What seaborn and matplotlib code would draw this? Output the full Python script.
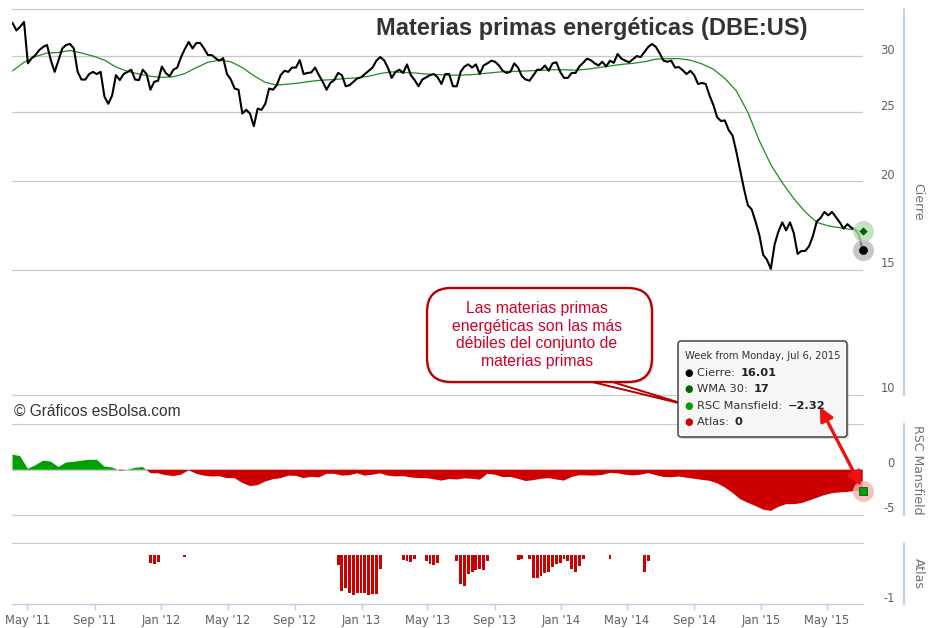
import numpy as np
import pandas as pd
import matplotlib
matplotlib.use("Agg")
import matplotlib.pyplot as plt
import matplotlib.dates as mdates
import matplotlib.transforms as mtransforms
from matplotlib.patches import FancyBboxPatch, Polygon, FancyArrowPatch
from matplotlib.lines import Line2D
import seaborn as sns

# ---------------- data ----------------
START = "2011-04-04"

close = [
    33.4, 32.6, 33.0, 33.5, 29.3, 29.8, 30.1, 30.6, 30.9, 31.1,
    29.6, 28.5, 29.6, 30.75, 31.1, 31.2, 30.75, 28.5, 27.8, 27.8,
    28.3, 28.5, 28.3, 28.5, 26.3, 25.7, 26.4, 28.2, 27.75, 28.3,
    28.5, 28.7, 27.8, 27.75, 28.7, 28.3, 26.9, 27.6, 27.7, 29.0,
    28.4, 28.1, 28.7, 28.9, 29.9, 30.7, 31.4, 30.75, 31.3, 31.3,
    30.75, 30.1, 30.1, 29.8, 29.55, 29.8, 28.3, 27.8, 27.0, 26.9,
    24.9, 25.2, 24.9, 23.9, 25.3, 25.2, 25.7, 27.0, 26.9, 27.3,
    28.2, 28.6, 28.5, 28.9, 28.9, 29.6, 28.3, 28.4, 28.45, 28.9,
    28.2, 27.6, 26.9, 27.5, 27.75, 28.4, 28.2, 27.2, 27.3, 27.6,
    27.9, 28.0, 28.3, 28.6, 28.9, 29.55, 29.9, 29.6, 28.9, 27.95,
    28.5, 28.7, 28.4, 29.2, 28.2, 27.75, 27.2, 27.8, 28.0, 28.2,
    28.3, 28.0, 27.4, 28.3, 28.3, 27.2, 27.2, 28.5, 29.0, 29.2,
    28.9, 29.2, 28.3, 29.1, 29.3, 29.55, 29.45, 29.1, 28.6, 28.4,
    28.5, 29.3, 28.9, 28.1, 27.8, 27.7, 28.2, 28.7, 28.7, 29.1,
    28.6, 29.3, 29.4, 28.5, 27.95, 27.95, 28.4, 28.4, 29.0, 29.35,
    29.75, 29.6, 29.3, 29.1, 29.45, 29.0, 29.55, 29.35, 30.2, 29.75,
    29.55, 29.4, 29.7, 30.0, 29.9, 30.4, 30.9, 31.2, 30.9, 30.25,
    29.55, 29.45, 29.55, 28.9, 28.95, 28.65, 28.3, 28.6, 28.2, 27.4,
    27.5, 27.4, 26.4, 25.6, 24.6, 24.3, 24.35, 23.6, 23.2, 22.0,
    20.7, 19.5, 18.5, 18.25, 17.55, 16.8, 15.75, 15.5, 15.05, 16.3,
    17.0, 17.5, 17.05, 17.5, 16.9, 15.8, 15.95, 15.95, 16.2, 16.75,
    17.55, 17.75, 18.1, 17.9, 18.1, 17.8, 17.5, 17.15, 17.4, 17.2,
    17.1, 16.8, 16.01,
]

# WMA 30, one reading every 3 weeks
wma30 = [
    28.6, 29.4, 29.95, 30.3, 30.35, 30.55, 30.3, 30.0, 29.6, 28.95,
    28.55, 28.3, 28.1, 28.0, 28.05, 28.35, 28.9, 29.4, 29.6, 29.45,
    28.9, 28.15, 27.55, 27.3, 27.4, 27.5, 27.65, 27.75, 27.8, 27.9,
    27.95, 28.1, 28.35, 28.5, 28.45, 28.4, 28.3, 28.25, 28.2, 28.2,
    28.25, 28.35, 28.45, 28.55, 28.55, 28.6, 28.65, 28.7, 28.7, 28.65,
    28.75, 28.9, 29.05, 29.2, 29.3, 29.45, 29.7, 29.75, 29.75, 29.6,
    29.25, 28.75, 27.9, 26.8, 25.0, 22.8, 21.1, 19.9, 18.9, 18.1,
    17.5, 17.3, 17.2, 17.1, 17.0,
]

# RSC Mansfield, one reading every 2 weeks
rsc = [
    1.67, 1.5, 0.1, 0.5, 1.0, 0.9, 0.3, 0.8, 0.87, 1.0,
    1.1, 1.1, 0.35, 0.25, -0.1, 0.0, 0.2, 0.3, -0.37, -0.4,
    -0.6, -0.7, -0.55, -0.05, -0.45, -0.65, -0.75, -0.72, -0.93, -0.93,
    -1.45, -1.8, -1.7, -1.3, -1.05, -0.93, -0.65, -0.68, -0.92, -0.78,
    -0.85, -0.45, -0.45, -0.65, -0.6, -0.4, -0.65, -0.55, -0.4, -0.65,
    -0.74, -0.7, -0.85, -0.93, -0.93, -1.05, -1.2, -1.03, -1.08, -0.95,
    -1.0, -1.1, -0.45, -0.55, -0.82, -0.8, -1.0, -1.25, -1.15, -1.0,
    -0.93, -1.08, -1.2, -0.8, -0.6, -0.63, -0.65, -0.57, -0.35, -0.4,
    -0.55, -0.63, -0.55, -0.37, -0.6, -0.8, -0.83, -0.75, -0.88, -1.0,
    -1.12, -1.22, -1.5, -1.95, -2.55, -3.25, -3.65, -4.0, -4.4, -4.55,
    -4.1, -3.8, -3.8, -3.7, -3.4, -3.1, -2.8, -2.6, -2.5, -2.45,
    -2.35, -2.32,
]

atlas_dates = [
    "2011-12-12", "2011-12-19", "2011-12-26", "2012-02-13",
    "2012-11-19", "2012-11-26", "2012-12-03", "2012-12-10", "2012-12-17", "2012-12-24",
    "2012-12-31", "2013-01-07", "2013-01-14", "2013-01-21", "2013-01-28", "2013-02-04",
    "2013-03-18", "2013-03-25", "2013-04-01", "2013-04-08",
    "2013-04-29", "2013-05-06", "2013-05-13", "2013-05-20",
    "2013-06-24", "2013-07-01", "2013-07-08", "2013-07-15", "2013-07-22", "2013-07-29",
    "2013-08-05", "2013-08-12", "2013-08-19",
    "2013-10-14", "2013-10-21", "2013-11-04", "2013-11-11", "2013-11-18", "2013-11-25",
    "2013-12-02", "2013-12-09", "2013-12-16", "2013-12-23", "2013-12-30", "2014-01-06",
    "2014-01-13", "2014-01-20", "2014-01-27", "2014-02-03", "2014-02-10",
    "2014-03-31", "2014-06-02", "2014-06-09",
]
atlas_vals = [
    -0.16, -0.18, -0.14, -0.04,
    -0.2, -0.74, -0.67, -0.78, -0.82, -0.78,
    -0.78, -0.78, -0.82, -0.8, -0.8, -0.28,
    -0.1, -0.12, -0.14, -0.07,
    -0.12, -0.18, -0.2, -0.17,
    -0.12, -0.59, -0.64, -0.39, -0.35, -0.31,
    -0.29, -0.31, -0.11,
    -0.09, -0.07, -0.07, -0.46, -0.46, -0.43,
    -0.37, -0.35, -0.25, -0.18, -0.15, -0.07,
    -0.11, -0.29, -0.35, -0.22, -0.08,
    -0.08, -0.34, -0.12,
]

price_ticks = [10, 15, 20, 25, 30]
price_grid = [15, 20, 25, 30]
rsc_ticks = [0, -5]
atlas_ticks = [-1]

title = "Materias primas energéticas (DBE:US)"
copyright_txt = "© Gráficos esBolsa.com"
callout_txt = "Las materias primas\nenergéticas son las más\ndébiles del conjunto de\nmaterias primas"
tt_header = "Week from Monday, Jul 6, 2015"
tt_rows = [("Cierre: ", "16.01", "#000000"),
           ("WMA 30: ", "17", "#006400"),
           ("RSC Mansfield: ", "\u22122.32", "#00A000"),
           ("Atlas: ", "0", "#CC0000")]

close_dates = pd.date_range(START, periods=len(close), freq="7D")
wma_dates = pd.date_range(START, periods=len(wma30), freq="21D")
rsc_dates = pd.date_range(START, periods=len(rsc), freq="14D")
atlas_dt = pd.to_datetime(atlas_dates)

# ---------------- style ----------------
sns.set_style("white")
plt.rcParams["font.family"] = ["DejaVu Sans"]

W, H = 931, 628
fig = plt.figure(figsize=(W / 100, H / 100), dpi=100)
fig.patch.set_facecolor("white")

GRID = "#C8C8C8"
AXC = "#C0D0E0"
LBL = "#606060"
L, R = 12, 863


def axes_px(top, bottom):
    return fig.add_axes([L / W, 1 - bottom / H, (R - L) / W, (bottom - top) / H])


ax_p = axes_px(8.5, 395)
ax_r = axes_px(424, 515)
ax_a = axes_px(543, 604)

xmin = close_dates[0] - pd.Timedelta(days=1)
xmax = close_dates[-1] + pd.Timedelta(days=0.5)

for ax in (ax_p, ax_r, ax_a):
    ax.set_facecolor("none")
    ax.set_xlim(xmin, xmax)
    for s in ax.spines.values():
        s.set_visible(False)
    ax.tick_params(left=False, right=False, labelleft=False, labelright=False)

# ---- price panel ----
sns.lineplot(x=close_dates, y=close, ax=ax_p, color="black", lw=1.5, zorder=4)
sns.lineplot(x=wma_dates, y=wma30, ax=ax_p, color="#1E8C1E", lw=0.9, zorder=3)
ax_p.set_yscale("log")
ax_p.set_ylim(10, 35)
ax_p.yaxis.set_major_locator(matplotlib.ticker.NullLocator())
ax_p.yaxis.set_minor_locator(matplotlib.ticker.NullLocator())
for g in price_grid:
    ax_p.axhline(g, color=GRID, lw=0.9, zorder=1)
for side in ("top", "bottom"):
    ax_p.spines[side].set_visible(True)
    ax_p.spines[side].set_color(GRID)
ax_p.tick_params(bottom=False, labelbottom=False)
ax_p.set_xlabel("")
ax_p.set_ylabel("")

ax_p.scatter([close_dates[-1]], [close[-1]], s=230, color="#B0B0B0", alpha=0.7, lw=0, zorder=5, clip_on=False)
ax_p.scatter([close_dates[-1]], [close[-1]], s=40, color="black", lw=0, zorder=6, clip_on=False)
ax_p.scatter([wma_dates[-1]], [wma30[-1]], s=230, color="#B5DDB5", alpha=0.8, lw=0, zorder=5, clip_on=False)
ax_p.scatter([wma_dates[-1]], [wma30[-1]], s=18, marker="D", color="#006400", lw=0, zorder=6, clip_on=False)

# ---- RSC panel ----
rv = np.array(rsc)
ax_r.fill_between(rsc_dates, 0, rv, where=rv >= 0, interpolate=True, color="#00A000", lw=0, zorder=3)
ax_r.fill_between(rsc_dates, 0, rv, where=rv <= 0, interpolate=True, color="#CC0000", lw=0, zorder=3)
ax_r.set_ylim(-5, 5.05)
ax_r.axhline(0, color=GRID, lw=0.9, zorder=1)
for side in ("top", "bottom"):
    ax_r.spines[side].set_visible(True)
    ax_r.spines[side].set_color(GRID)
ax_r.tick_params(bottom=False, labelbottom=False)
ax_r.set_yticks([])
ax_r.scatter([rsc_dates[-1]], [rsc[-1]], s=230, color="#F0B4B4", alpha=0.8, lw=0, zorder=5, clip_on=False)
ax_r.scatter([rsc_dates[-1]], [rsc[-1]], s=40, marker="s", color="#00A000", edgecolor="#006400", lw=0.6, zorder=6, clip_on=False)

# ---- Atlas panel ----
ax_a.bar(atlas_dt, atlas_vals, width=5.3, color="#CC0000", edgecolor="none", zorder=3)
ax_a.set_ylim(-1, 0.25)
ax_a.set_yticks([])
ax_a.spines["top"].set_visible(True)
ax_a.spines["top"].set_color(GRID)
ax_a.spines["bottom"].set_visible(True)
ax_a.spines["bottom"].set_color(AXC)
ax_a.spines["bottom"].set_linewidth(1.0)
ax_a.xaxis.set_major_locator(mdates.MonthLocator(bymonth=[1, 5, 9]))
ax_a.xaxis.set_major_formatter(mdates.DateFormatter("%b '%y"))
ax_a.xaxis.set_minor_locator(matplotlib.ticker.NullLocator())
ax_a.tick_params(axis="x", bottom=True, direction="out", length=4.5, width=1,
                 color=AXC, labelcolor=LBL, labelsize=8.3, pad=2.5)

# ---- right side labels, axis lines and titles ----
xr_lab = (895 - L) / (R - L)
xr_line = (904 - L) / (R - L)
xr_title = (918 - L) / (R - L)
off = mtransforms.ScaledTranslation(0, 6 / 100, fig.dpi_scale_trans)


def right_axis(ax, ticks, name):
    tr = mtransforms.blended_transform_factory(ax.transAxes, ax.transData) + off
    for t in ticks:
        ax.text(xr_lab, t, f"{t:g}", ha="right", va="center", transform=tr,
                fontsize=8.3, color=LBL)
    ax.add_line(Line2D([xr_line, xr_line], [0, 1], transform=ax.transAxes,
                       color=AXC, lw=1.6, clip_on=False))
    ax.text(xr_title, 0.5, name, rotation=270, ha="center", va="center",
            transform=ax.transAxes, fontsize=9, color="#707070")


right_axis(ax_p, price_ticks, "Cierre")
right_axis(ax_r, rsc_ticks, "RSC Mansfield")
right_axis(ax_a, atlas_ticks, "Atlas")

# ---- title and texts ----
fig.text(808 / W, 1 - 28 / H, title, ha="right", va="center", fontsize=17,
         fontweight="bold", color="#333333", family=["Liberation Sans", "DejaVu Sans"])
fig.text(14 / W, 1 - 411 / H, copyright_txt, ha="left", va="center", fontsize=11.2,
         color="#333333", family=["Liberation Sans", "DejaVu Sans"])

ID = fig.dpi_scale_trans


def P(x, y):
    return (x / 100, (H - y) / 100)


# callout
cshadow = FancyBboxPatch(P(429.5, 384), 225 / 100, 94 / 100,
                         boxstyle="round,pad=0,rounding_size=0.24", transform=ID,
                         facecolor="#888888", alpha=0.25, edgecolor="none", zorder=9)
fig.add_artist(cshadow)
tail = Polygon([P(584, 380), P(606, 380), P(687, 405)], closed=True, facecolor="white",
               edgecolor="#B80000", lw=1.4, transform=ID, zorder=10)
fig.add_artist(tail)
box = FancyBboxPatch(P(427, 382), 225 / 100, 94 / 100,
                     boxstyle="round,pad=0,rounding_size=0.24", transform=ID,
                     facecolor="white", edgecolor="#B80000", lw=1.7, zorder=11)
fig.add_artist(box)
fig.text(*P(537, 335), callout_txt, transform=ID, ha="center", va="center",
         fontsize=11.3, color="#D4002A", linespacing=1.2,
         family=["Liberation Sans", "DejaVu Sans"], zorder=12)

# tooltip
shadow = FancyBboxPatch(P(680, 439), 169 / 100, 96 / 100,
                        boxstyle="round,pad=0,rounding_size=0.03", transform=ID,
                        facecolor="#999999", alpha=0.35, edgecolor="none", zorder=12)
fig.add_artist(shadow)
tip = FancyBboxPatch(P(678, 437), 169 / 100, 96 / 100,
                     boxstyle="round,pad=0,rounding_size=0.03", transform=ID,
                     facecolor="#F7F7F7", edgecolor="#333333", lw=1.0, zorder=13)
fig.add_artist(tip)
fig.text(*P(685, 356), tt_header, transform=ID, ha="left", va="center",
         fontsize=7.2, color="#333333", zorder=14)
renderer = fig.canvas.get_renderer()
for i, (lab, val, col) in enumerate(tt_rows):
    yy = 373 + i * 16.3
    fig.text(*P(689, yy), "\u25CF", transform=ID, ha="center", va="center",
             fontsize=7, color=col, zorder=14)
    t = fig.text(*P(697, yy), lab, transform=ID, ha="left", va="center",
                 fontsize=8.2, color="#333333", zorder=14)
    ext = t.get_window_extent(renderer=renderer)
    fig.text(ext.x1 / 100 + 0.02, (H - yy) / 100, val, transform=ID, ha="left",
             va="center", fontsize=8.2, fontweight="bold", color="#222222", zorder=14)

# red double arrow
arr = FancyArrowPatch(P(820, 407), P(861, 486), transform=ID, arrowstyle="<|-|>",
                      mutation_scale=20, color="#EE1111", lw=2.4, shrinkA=0, shrinkB=0,
                      zorder=15)
fig.add_artist(arr)

fig.savefig("out.png", dpi=100, facecolor="white")
